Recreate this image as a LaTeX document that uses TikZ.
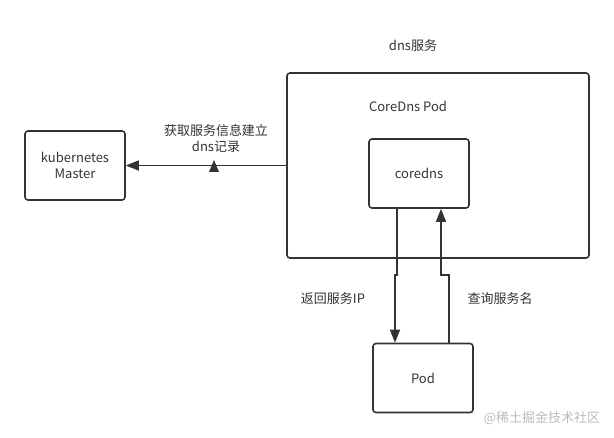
\documentclass[tikz,border=0pt]{standalone}
\usepackage{fontspec}
\setmainfont{Noto Sans CJK SC}
\usetikzlibrary{arrows.meta}
\definecolor{linegray}{HTML}{333333}
\definecolor{markgray}{HTML}{BBBBBB}
\tikzset{
  box/.style={draw=linegray, line width=1.6pt, rounded corners=3pt, minimum width=100pt, minimum height=69pt, inner sep=0pt, text=linegray, align=center, font=\fontsize{13}{16}\selectfont},
  lbl/.style={text=linegray, align=center, font=\fontsize{13}{16}\selectfont},
  link/.style={draw=linegray, line width=1.6pt, -{Triangle[width=10pt,length=13pt]}},
}
\begin{document}
\begin{tikzpicture}[x=1pt,y=-1pt]
            \useasboundingbox (0,0) rectangle (614,438);
            \node[box] (master) at (75,165.5) {kubernetes\\Master};
            \node[box, minimum width=302pt, minimum height=185pt] (dns) at (438,165.5) {};
            \node[box] (coredns) at (419,173.5) {coredns};
            \node[box] (pod) at (423,378) {Pod};
            \node[lbl] (dnslbl) at (413,46) {dns服务};
            \node[lbl] (podlbl) at (408,106) {CoreDns Pod};
            \node[lbl] (getlbl) at (216,139) {获取服务信息建立\\dns记录};
            \node[lbl] (retlbl) at (333,299) {返回服务IP};
            \node[lbl] (qrylbl) at (500,299) {查询服务名};
            \node[text=markgray, font=\fontsize{13}{16}\selectfont] (mark) at (542,418) {@稀土掘金技术社区};
            \draw[link] (dns.west) -- (master.east);
            \coordinate (mid) at (214,166);
            \fill[linegray] ([yshift=6pt]mid) -- ([xshift=5pt,yshift=-6pt]mid) -- ([xshift=-5pt,yshift=-6pt]mid) -- cycle;
            \draw[link] ([xshift=-22pt]coredns.south) -- (397,275) -- (395,275) -- ([xshift=-28pt]pod.north);
            \draw[link] ([xshift=26pt]pod.north) -- (449,275) -- (441,275) -- ([xshift=22pt]coredns.south);
        \end{tikzpicture}
\end{document}
